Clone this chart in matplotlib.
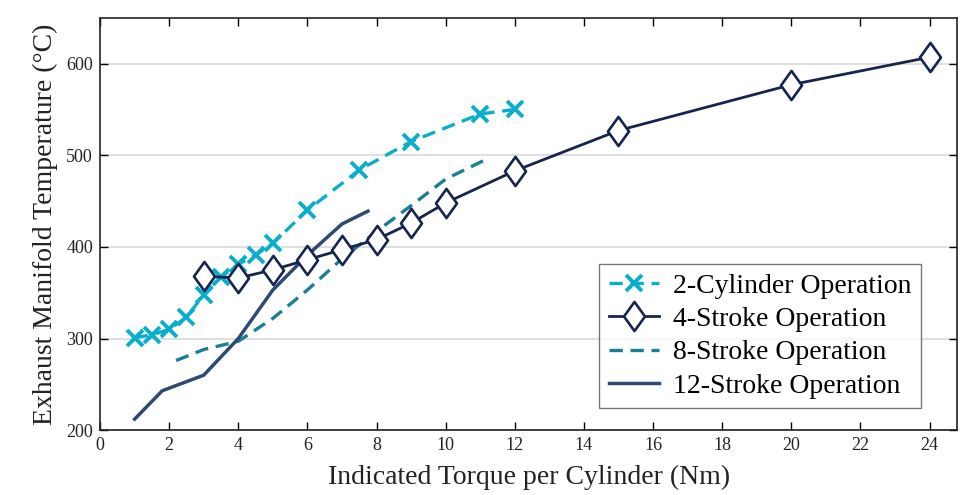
import numpy as np
import matplotlib
matplotlib.use("Agg")
import matplotlib.pyplot as plt
from matplotlib.path import Path

plt.rcParams['font.family'] = ['Liberation Serif', 'DejaVu Serif']

# 2-Cylinder Operation
x_2cyl = [1, 1.5, 2, 2.5, 3, 3.5, 4, 4.5, 5, 6, 7.5, 9, 11, 12]
y_2cyl = [301, 304, 310, 323, 348, 367, 381, 391, 404, 440, 484, 515, 545, 550]

# 4-Stroke Operation
x_4st = [3, 4, 5, 6, 7, 8, 9, 10, 12, 15, 20, 24]
y_4st = [368, 366, 375, 386, 397, 408, 426, 448, 483, 527, 577, 607]

# 8-Stroke Operation
x_8st = [2.2, 3, 4, 5, 6, 7, 8, 9, 10, 11.25]
y_8st = [276, 288, 297, 322, 353, 387, 417, 445, 474, 497]

# 12-Stroke Operation
x_12st = [1, 1.8, 3, 4, 5, 6, 7, 7.75]
y_12st = [212, 243, 260, 300, 353, 391, 425, 439]

# tall diamond like the matlab one
diamond = Path([(0, 1), (0.72, 0), (0, -1), (-0.72, 0), (0, 1)],
               [Path.MOVETO, Path.LINETO, Path.LINETO, Path.LINETO, Path.CLOSEPOLY])

fig = plt.figure(figsize=(9.62, 4.95), dpi=100)
ax = fig.add_axes([0.104, 0.131, 0.891, 0.833])

ax.plot(x_2cyl, y_2cyl, color='#0aaecc', ls=(0, (4, 2.3)), lw=2.4, marker='x',
        ms=12, mew=2.8, label='2-Cylinder Operation', zorder=3)
ax.plot(x_4st, y_4st, color='#15254f', ls='-', lw=2.0, marker=diamond, ms=21,
        mfc='white', mew=1.9, label='4-Stroke Operation', zorder=4)
ax.plot(x_8st, y_8st, color='#1a7f96', ls=(0, (4, 2.3)), lw=2.4,
        label='8-Stroke Operation', zorder=2)
ax.plot(x_12st, y_12st, color='#2d4b72', ls='-', lw=2.5,
        label='12-Stroke Operation', zorder=2)

ax.set_xlim(0, 24.8)
ax.set_ylim(200, 650)
ax.set_xticks(np.arange(0, 25, 2))
ax.set_yticks([200, 300, 400, 500, 600])
ax.yaxis.grid(True, color='#d9d9d9', lw=1.2)
ax.set_axisbelow(True)
ax.tick_params(direction='in', top=True, right=True, length=6, width=1,
               labelsize=13, pad=5, labelcolor='#222222')
for s in ax.spines.values():
    s.set_linewidth(1.2)
    s.set_color('#222222')

ax.set_xlabel('Indicated Torque per Cylinder (Nm)', fontsize=20, labelpad=8,
              color='#222222')
ax.set_ylabel('Exhaust Manifold Temperature (°C)', fontsize=20, labelpad=6,
              color='#222222')

leg = ax.legend(loc='lower right', bbox_to_anchor=(0.958, 0.053), fontsize=20,
                frameon=True, fancybox=False, edgecolor='#555555',
                handlelength=1.8, borderpad=0.35, labelspacing=0.28,
                handletextpad=0.5, borderaxespad=0)
leg.get_frame().set_linewidth(1.0)

fig.savefig('out.png', dpi=100)
